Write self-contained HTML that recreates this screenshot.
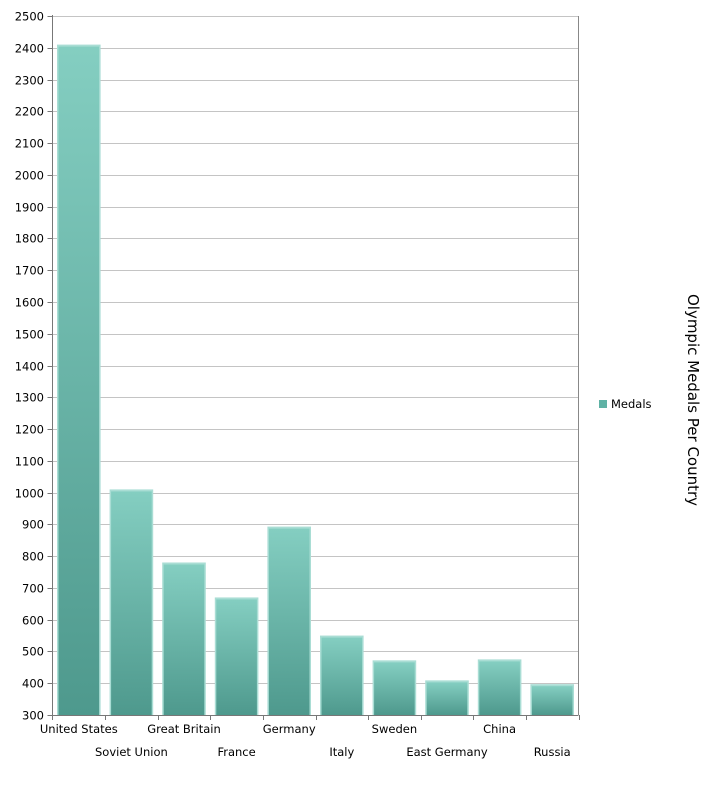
<!DOCTYPE html>
<html><head><meta charset="utf-8"><style>body{margin:0;background:#fff}svg{display:block}text{font-family:"DejaVu Sans","Liberation Sans",sans-serif;font-size:11.5px;fill:#000}</style></head><body>
<svg width="727" height="789" viewBox="0 0 727 789">
<defs><linearGradient id="g" x1="0" y1="0" x2="0" y2="1"><stop offset="0" stop-color="#84cec1"/><stop offset="1" stop-color="#4e998d"/></linearGradient></defs>
<g id="grid" stroke="#c4c4c4" stroke-width="1"></g>
<g id="bars"></g>
<g id="axes"></g>
<rect x="599" y="400" width="8" height="8" fill="#5fb2a5"/>
<text x="611" y="408">Medals</text>
<text transform="translate(688,400) rotate(90)" text-anchor="middle" style="font-size:15px">Olympic Medals Per Country</text>
</svg>
<script>
var ns="http://www.w3.org/2000/svg";
function el(p,t,a,txt){var e=document.createElementNS(ns,t);for(var k in a)e.setAttribute(k,a[k]);if(txt!=null)e.textContent=txt;document.getElementById(p).appendChild(e);}
var L=52.5,R=578.5,T=16,B=715,s=(B-T)/2200;
for(var v=300;v<=2500;v+=100){var y=Math.round(B-(v-300)*s)+0.5;if(v>300)el('grid','line',{x1:L,x2:R,y1:y,y2:y});
el('axes','line',{x1:L-5,x2:L,y1:y,y2:y,stroke:'#777'});el('axes','text',{x:44,y:y+4,'text-anchor':'end'},v);}
el('axes','line',{x1:R,x2:R,y1:T,y2:B,stroke:'#888'});
el('axes','line',{x1:L,x2:L,y1:T-1,y2:B+5,stroke:'#777'});
el('axes','line',{x1:L,x2:R,y1:B+0.5,y2:B+0.5,stroke:'#777'});
var d=[["United States",2410],["Soviet Union",1010],["Great Britain",780],["France",670],["Germany",893],["Italy",550],["Sweden",472],["East Germany",409],["China",475],["Russia",397]];
var w=(R-L)/10;
d.forEach(function(c,i){var x=L+i*w;var y=B-(c[1]-300)*s;
el('bars','rect',{x:x+4.5,y:y,width:w-9,height:B-y,fill:'#a9ddd4'});
el('bars','rect',{x:x+6,y:y+2,width:w-12,height:B-y-2,fill:'url(#g)'});
el('axes','line',{x1:Math.round(x+w)+0.5,x2:Math.round(x+w)+0.5,y1:B,y2:B+5,stroke:'#777'});
el('axes','text',{x:x+w/2,y:i%2?756:733,'text-anchor':'middle'},c[0]);});
</script>
</body></html>
